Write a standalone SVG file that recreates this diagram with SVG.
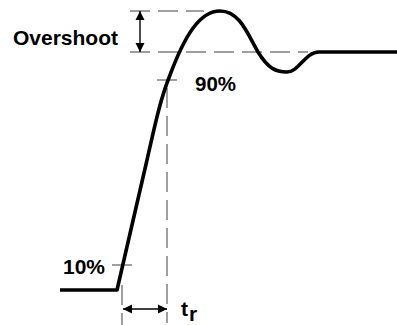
<svg xmlns="http://www.w3.org/2000/svg" width="397" height="325" viewBox="0 0 397 325">
  <style>
    .guide { stroke: #808080; stroke-width: 1.5; stroke-dasharray: 20 8; fill: none; }
    .tick { stroke: #808080; stroke-width: 1.5; fill: none; }
    .dim { stroke: #000; stroke-width: 1.4; fill: none; }
    .lbl { font-family: "Liberation Sans", Arial, sans-serif; font-weight: bold; font-size: 21px; fill: #000; }
  </style>
  <defs>
    <marker id="ah" viewBox="0 0 10 10" refX="10" refY="5" markerWidth="9" markerHeight="10" markerUnits="userSpaceOnUse" orient="auto-start-reverse">
      <path d="M0,0 L10,5 L0,10 Z" fill="#000"/>
    </marker>
  </defs>
  <rect width="397" height="325" fill="#fff"/>
  <g id="guides">
    <line class="guide" x1="130" y1="11" x2="204" y2="11"/>
    <line class="guide" x1="130" y1="52" x2="308" y2="52"/>
    <line class="guide" x1="167" y1="88" x2="167" y2="323"/>
    <line class="guide" x1="122" y1="285" x2="122" y2="325"/>
    <line class="tick" x1="157" y1="80" x2="177" y2="80"/>
    <line class="tick" x1="112" y1="265" x2="132" y2="265"/>
  </g>
  <g id="signal">
    <path d="M60,290 H117 L147,160 C155,125 160,100 170,75 C185,35 200,11 220,11 C240,11 248,35 258,52 C268,68 275,72 287,72 C299,72 305,52 319,52 H397" fill="none" stroke="#000" stroke-width="3.6" stroke-linejoin="round"/>
  </g>
  <g id="connectors">
    <line class="dim" x1="140" y1="11" x2="140" y2="52" marker-start="url(#ah)" marker-end="url(#ah)"/>
    <line class="dim" x1="123" y1="309" x2="167" y2="309" stroke="#333" marker-start="url(#ah)" marker-end="url(#ah)"/>
  </g>
  <g id="labels">
    <text class="lbl" x="13" y="45" textLength="105" lengthAdjust="spacingAndGlyphs">Overshoot</text>
    <text class="lbl" x="195" y="91" textLength="41" lengthAdjust="spacingAndGlyphs">90%</text>
    <text class="lbl" x="63" y="274" textLength="42" lengthAdjust="spacingAndGlyphs">10%</text>
    <text class="lbl" x="181" y="316">t</text>
    <text class="lbl" x="189" y="321" font-size="19">r</text>
  </g>
</svg>
